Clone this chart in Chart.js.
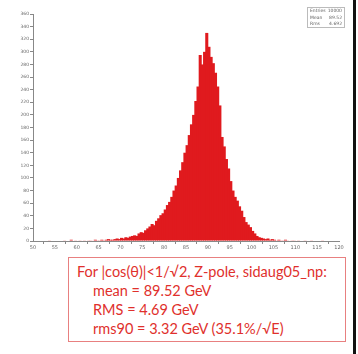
<!DOCTYPE html>
<html>
<head>
<meta charset="utf-8">
<script src="https://cdn.jsdelivr.net/npm/chart.js@4"></script>
<style>
html,body{margin:0;padding:0;background:#fff;width:358px;height:354px;overflow:hidden;position:relative;font-family:Lato,"Open Sans",sans-serif;}
#wrap{position:absolute;left:0;top:0;width:358px;height:252px;}
.stat{position:absolute;left:307px;top:7px;width:38px;height:21px;border:1px solid #bbb;font:4.5px "DejaVu Sans",sans-serif;color:#666;line-height:6.6px;padding:0 2px;box-sizing:border-box;}
.stat div{display:flex;justify-content:space-between;}
#box{position:absolute;left:68px;top:257px;width:278px;height:85px;border:1px solid #e88080;box-sizing:border-box;}
.ln{position:absolute;color:#e0302c;font-family:Lato,sans-serif;font-size:14.5px;white-space:nowrap;line-height:18px;}
#edge{position:absolute;left:353px;top:0;width:3px;height:354px;background:#111;}
</style>
</head>
<body>
<div id="wrap"><canvas id="c" width="358" height="252"></canvas></div>
<div class="stat">
<div><span>Entries</span><span>10000</span></div>
<div><span>Mean</span><span>89.52</span></div>
<div><span>Rms</span><span>4.692</span></div>
</div>
<div id="box"></div>
<div class="ln" style="left:77px;top:263px;">For |cos(θ)|&lt;1/√2, Z-pole, sidaug05_np:</div>
<div class="ln" style="left:93px;top:282px;">mean = 89.52 GeV</div>
<div class="ln" style="left:93px;top:301px;">RMS = 4.69 GeV</div>
<div class="ln" style="left:93px;top:320px;">rms90 = 3.32 GeV (35.1%/√E)</div>
<div id="edge"></div>
<script>
// Histogram: 0.5 GeV bins from 50 to 120
const binStart = 50;
const binWidth = 0.5;
const counts = [
  0,0,0,0,0,0,0,1,0,0,
  0,0,0,0,1,0,0,2,0,1,
  0,1,0,1,0,1,1,0,2,1,
  1,2,1,2,3,2,2,3,4,3,
  5,4,6,5, 7,8,9,8,
  12,14,13,17, 20,23,27,25,
  32,36,41,44, 50,57,62,70,
  80,88,100,112, 125,140,152,168,
  185,200,222,245, 295,280,300,330,
  308,292,282,267, 245,215,165,150,
  130,115,95,80, 70,64,55,48,
  38,30,26,22, 16,12,8,6,
  5,4,3,4, 2,3,2,1,
  2,1,1,2,1,0,1,1,
  0,1,0,0,1,0,0,1,0,0,
  0,0,1,0,0,0,0,0,0,0
];
const xTicks = [50,55,60,65,70,75,80,85,90,95,100,105,110,115,120];
const yTicks = [0,20,40,60,80,100,120,140,160,180,200,220,240,260,280,300,320,340,360];

const data = counts.map((v,i)=>({x: binStart + binWidth*(i+0.5), y: v}));

new Chart(document.getElementById('c'), {
  type: 'bar',
  data: { datasets: [{
    data: data,
    backgroundColor: '#e01a1e',
    borderWidth: 0,
    barPercentage: 1.4,
    categoryPercentage: 1.0
  }]},
  options: {
    responsive: false,
    animation: false,
    events: [],
    layout: { padding: { top: 14, right: 19, left: 0, bottom: 0 } },
    plugins: { legend: {display:false}, tooltip: {enabled:false} },
    scales: {
      x: {
        type: 'linear', min: 50, max: 120, offset: false,
        afterBuildTicks: s => { s.ticks = xTicks.map(v=>({value:v})); },
        afterFit: s => { s.height = 11; },
        grid: { display: true, drawOnChartArea: false, drawTicks: true, tickLength: 3, color: '#888' },
        border: { display: true, color: '#888', width: 1 },
        ticks: { font: { size: 5, family: 'DejaVu Sans' }, color: '#666', padding: 1, maxRotation: 0, autoSkip: false }
      },
      y: {
        min: 0, max: 360,
        afterBuildTicks: s => { s.ticks = yTicks.map(v=>({value:v})); },
        afterFit: s => { s.width = 33; },
        grid: { display: true, drawOnChartArea: false, drawTicks: true, tickLength: 3, color: '#888' },
        border: { display: true, color: '#888', width: 1 },
        ticks: { font: { size: 4.5, family: 'DejaVu Sans' }, color: '#666', padding: 1, autoSkip: false }
      }
    }
  }
});
</script>
</body>
</html>
